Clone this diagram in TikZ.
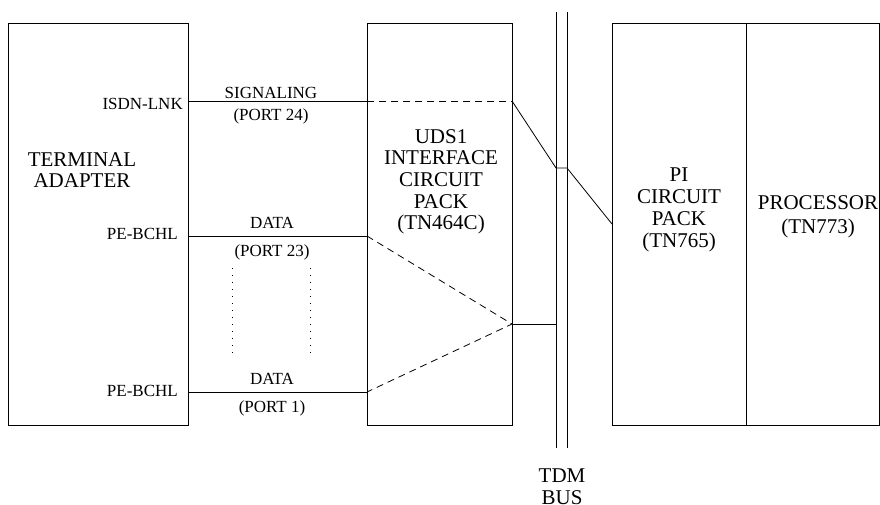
\documentclass[tikz,border=0pt]{standalone}
\usepackage{fontspec}
\setmainfont{Liberation Serif}
\usetikzlibrary{positioning}

\tikzset{
  caja/.style={draw, line width=0.8pt, rectangle, inner sep=0pt, outer sep=0pt,
    minimum height=402pt},
  linea/.style={line width=0.8pt},
  discont/.style={line width=0.8pt, dash pattern=on 7pt off 5pt},
  puntos/.style={line width=0.9pt, dash pattern=on 1.2pt off 5.8pt},
  grande/.style={align=center, anchor=north, inner sep=0pt},
  chica/.style={anchor=base, inner sep=0pt, font=\fontsize{17}{19}\selectfont}
}

\begin{document}
\begin{tikzpicture}[x=1pt,y=-1pt]

  \useasboundingbox (0,0) rectangle (880,505);

  % Cajas
  \node[caja, minimum width=180pt] (ta) at (98,224) {};
  \node[caja, minimum width=145pt] (uds) at (439.5,224) {};
  \node[caja, minimum width=134pt] (pi) at (679,224) {};
  \node[caja, minimum width=133pt] (proc) at (812.5,224) {};

  % Textos de las cajas
  \node[grande, font=\fontsize{21}{21}\selectfont] (tatxt) at (82,152)
    {TERMINAL\\ADAPTER};
  \node[grande, font=\fontsize{21}{21.7}\selectfont] (udstxt) at (441,129)
    {UDS1\\INTERFACE\\CIRCUIT\\PACK\\(TN464C)};
  \node[grande, font=\fontsize{21}{22}\selectfont] (pitxt) at (679,168)
    {PI\\CIRCUIT\\PACK\\(TN765)};
  \node[grande, font=\fontsize{21}{24}\selectfont] (proctxt) at (818,195)
    {PROCESSOR\\(TN773)};
  \node[grande, font=\fontsize{21}{22}\selectfont] (bustxt) at (562,469)
    {TDM\\BUS};

  % Puntos de conexion
  \coordinate (sigL) at (ta.east |- 0,101);
  \coordinate (sigM) at (uds.west |- 0,101);
  \coordinate (sigR) at (uds.east |- 0,101);
  \coordinate (d23L) at (ta.east |- 0,236);
  \coordinate (d23M) at (uds.west |- 0,236);
  \coordinate (d1L) at (ta.east |- 0,392);
  \coordinate (d1M) at (uds.west |- 0,392);
  \coordinate (mux) at (uds.east |- 0,324);
  \coordinate (piIn) at (pi.west |- 0,224);

  % Bus TDM
  \coordinate (busAtop) at (556,12);
  \coordinate (busAbot) at (556,448);
  \coordinate (busBtop) at (567,12);
  \coordinate (busBbot) at (567,448);
  \coordinate (busA) at (556,168);
  \coordinate (busB) at (567,168);
  \coordinate (busC) at (556,324);

  \draw[linea] (busAtop) -- (busAbot);
  \draw[linea] (busBtop) -- (busBbot);

  % Senalizacion
  \draw[linea] (sigL) -- (sigM);
  \draw[discont] (sigM) -- (sigR);
  \draw[linea] (sigR) -- (busA) -- (busB) -- (piIn);

  % Datos
  \draw[linea] (d23L) -- (d23M);
  \draw[linea] (d1L) -- (d1M);
  \draw[discont] (d23M) -- (mux) -- (d1M);
  \draw[linea] (mux) -- (busC);

  % Lineas punteadas
  \draw[puntos] (232,268) -- (232,358);
  \draw[puntos] (310,268) -- (310,358);

  % Etiquetas
  \node[chica, anchor=base east] (isdn) at (183,110) {ISDN-LNK};
  \node[chica] (sig) at (271,99) {SIGNALING};
  \node[chica] (p24) at (271,121) {(PORT 24)};
  \node[chica, anchor=base east] (pe23) at (178,239) {PE-BCHL};
  \node[chica] (dat23) at (272,228) {DATA};
  \node[chica] (p23) at (272,256) {(PORT 23)};
  \node[chica, anchor=base east] (pe1) at (178,396) {PE-BCHL};
  \node[chica] (dat1) at (272,384) {DATA};
  \node[chica] (p1) at (272,412) {(PORT 1)};

\end{tikzpicture}
\end{document}
